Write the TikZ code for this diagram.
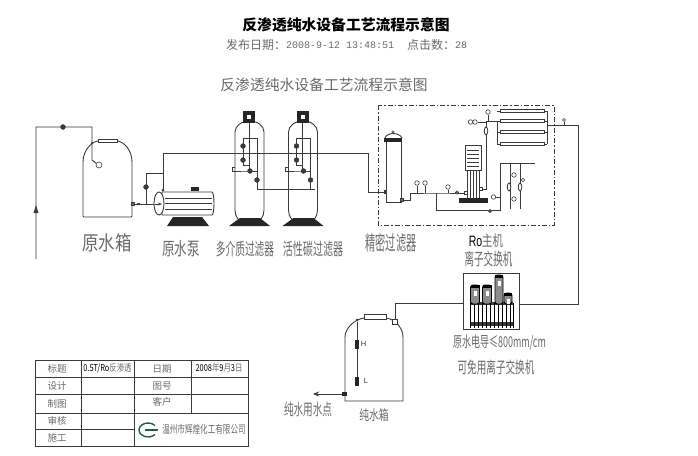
\documentclass[tikz,border=0pt]{standalone}
\usepackage{graphicx}
\usepackage{fontspec}
\setmainfont{Noto Sans CJK SC}
\newfontfamily\monof{Liberation Mono}
\newfontfamily\arialf{Liberation Sans}
\definecolor{ink}{HTML}{3A3A3A}
\definecolor{soft}{HTML}{6A6A6A}
\definecolor{logo}{HTML}{1F5F4A}
\newcommand{\nar}[3]{\scalebox{#2}[1]{\fontsize{#1pt}{#1pt}\selectfont #3}}
\tikzset{
 pipe/.style={draw=ink,line width=0.9pt},
 thinp/.style={draw=ink,line width=0.6pt},
 valve/.style={circle,fill=ink,draw=ink,line width=0.3pt,inner sep=0pt,minimum size=5pt},
 gauge/.style={circle,draw=ink,fill=white,line width=0.6pt,inner sep=0pt,minimum size=4.5pt},
 flowm/.style={ellipse,draw=ink,fill=white,line width=0.8pt,inner sep=0pt,minimum width=3.5pt,minimum height=8pt},
 lab/.style={text=soft,inner sep=0pt},
 cell/.style={text=soft,inner sep=0pt,font=\fontsize{9.5pt}{9.5pt}\selectfont},
 memb/.style={draw=ink,line width=0.7pt,fill=white,minimum width=44pt,minimum height=3.5pt,inner sep=0pt},
 blackbase/.style={fill=black!85,draw=none},
 tbl/.style={draw=ink,line width=0.7pt},
}
\usetikzlibrary{shapes.geometric,arrows.meta}
\begin{document}
\begin{tikzpicture}[x=1pt,y=-1pt]
\useasboundingbox (0,0) rectangle (698,455);
\fill[white] (0,0) rectangle (698,455);
% titles
\node[inner sep=0pt,font=\fontsize{14.8pt}{15pt}\selectfont\bfseries] (t1) at (346,24.5) {反渗透纯水设备工艺流程示意图};
\node[anchor=west,inner sep=0pt,text=soft,font=\fontsize{12pt}{12pt}\selectfont] (t2a) at (226,45) {发布日期：};
\node[anchor=west,inner sep=0pt,text=soft,font=\monof\fontsize{10pt}{10pt}\selectfont] (t2b) at (286,45) {2008-9-12 13:48:51};
\node[anchor=west,inner sep=0pt,text=soft,font=\fontsize{12pt}{12pt}\selectfont] (t2c) at (407,45) {点击数：};
\node[anchor=west,inner sep=0pt,text=soft,font=\monof\fontsize{10pt}{10pt}\selectfont] (t2d) at (455,45) {28};
\node[lab] (t3) at (324,85) {\fontsize{14.8pt}{15pt}\selectfont 反渗透纯水设备工艺流程示意图};
% raw tank
\coordinate (rin) at (36,259); \coordinate (rc1) at (36,127); \coordinate (rc2) at (92,127); \coordinate (rc3) at (92,160); \coordinate (rfl) at (97,164);
\draw[pipe,rounded corners=1pt] (83,217) -- (83,163) .. controls (83,150) and (92,142) .. (98,141) -- (117,141) .. controls (124,142) and (132,150) .. (132,163) -- (132,217) -- cycle;
\draw[thinp,fill=white] (98,139) rectangle (117,142);
\draw[pipe] (rin) -- (rc1) -- (rc2) -- (rc3) -- (rfl);
\node[valve] (v0) at (63,127) {};
\node[gauge,minimum size=6pt] (fl) at (99,165) {};
\node[circle,fill=ink,inner sep=0pt,minimum size=2.5pt] (tn) at (92,143) {};
\fill[ink] (36,205) -- (33.5,213) -- (38.5,213) -- cycle;
% pump
\coordinate (tout) at (132,204); \coordinate (pin) at (155,204);
\coordinate (br) at (146,204); \coordinate (br1) at (146,173); \coordinate (br2) at (163,173); \coordinate (pt) at (163,190);
\coordinate (m1) at (163,153); \coordinate (m2) at (368,153); \coordinate (m3) at (368,192); \coordinate (cin) at (386,192);
\draw[pipe] (tout) -- (pin);
\draw[line width=1.6pt,ink] (137,204) -- (140,204);
\node[draw=ink,fill=soft,inner sep=0pt,minimum size=3pt] (to) at (132.5,204) {};
\draw[thinp] (br) -- (br1) -- (br2);
\draw[pipe] (pt) -- (m1) -- (m2) -- (m3) -- (cin);
\node[valve] (v1) at (146,187) {};
\node[circle,fill=ink,inner sep=0pt,minimum size=3pt] (pd) at (163,190) {};
\draw[pipe,fill=white] (162,192) -- (212,192) arc (-90:90:2 and 11.5) -- (162,215) -- cycle;
\foreach \y in {198,203,209}{\draw[thinp] (165,\y) -- (212,\y);}
\draw[pipe,fill=white] (159,203.5) ellipse (5 and 11.5);
\draw[ink,-{Stealth[length=4pt]},line width=.7pt] (155,204) -- (162,204);
\fill[blackbase] (173,217) -- (202,217) -- (209,226) -- (167,226) -- cycle;
\fill[black!85] (191,187) rectangle (199,191);
% filters
\foreach \dx/\nm in {0/a,53.5/b}{
 \begin{scope}[xshift=\dx pt]
  \draw[pipe] (243,222) .. controls (239,221) and (235,217) .. (235,210) -- (235,132) arc (180:360:14.5 and 11) -- (264,210) .. controls (264,217) and (260,221) .. (256,222);
  \fill[blackbase] (240,218) -- (260,218) -- (270,226) -- (229,226) -- cycle;
  \fill[black!85] (243,111) rectangle (255,123);
  \fill[white] (247,115) rectangle (251,119);
  \coordinate (h\nm) at (249,123); \coordinate (j\nm) at (249,171);
  \coordinate (a\nm) at (243,138); \coordinate (a2\nm) at (243,165);
  \coordinate (b\nm) at (257,138); \coordinate (b2\nm) at (257,189);
  \coordinate (c\nm) at (232,171); \coordinate (c2\nm) at (232,167); \coordinate (c3\nm) at (235,167);
  \draw[thinp] (h\nm) -- (j\nm);
  \draw[thinp] (a\nm) -- (a2\nm) -- (249,165);
  \draw[thinp] (a\nm) -- (b\nm) -- (b2\nm);
  \draw[thinp] (c3\nm) -- (c2\nm) -- (c\nm) -- (j\nm) -- (257,171);
  \node[valve] (va\nm) at (243,146) {};
  \node[valve] (vb\nm) at (243,160) {};
  \node[valve] (vc\nm) at (250,171) {};
  \node[valve] (vd\nm) at (257,180) {};
 \end{scope}}
\coordinate (bb) at (315,189);
\draw[thinp] (b2a) -- (bb);
% cartridge filter box
\draw[ink,line width=0.8pt,dash pattern=on 5pt off 2pt on 1.5pt off 2pt] (378,105) rectangle (554,225);
\draw[pipe,fill=white] (386,141) rectangle (401,202);
\draw[pipe] (385,138) .. controls (387,132) and (399,132) .. (402,138);
\fill[black!85] (384,138) rectangle (402,141.5);
\node[circle,draw=ink,inner sep=0pt,minimum size=2.5pt] (cd) at (393,132) {};
\node[fill=ink,inner sep=0pt,minimum size=3.5pt] (cinn) at (385.5,192) {};
\coordinate (c1) at (401,200); \coordinate (c2) at (410,200); \coordinate (c3) at (410,193); \coordinate (c4) at (436,193); \coordinate (c5) at (465,193);
\coordinate (l1) at (436,210); \coordinate (l2) at (500,210); \coordinate (l3) at (500,163); \coordinate (l4) at (535,163);
\draw[pipe] (c1) -- (c2) -- (c3) -- (c4) -- (c5);
\draw[pipe] (c4) -- (l1) -- (l2) -- (l3) -- (l4);
\node[draw=ink,fill=soft,inner sep=0pt,minimum size=3pt] (co) at (401.5,200) {};
\foreach \x/\y/\n in {417/183/g1,425/183/g2,448/187/g3}{
 \node[gauge] (\n) at (\x,\y) {};
 \coordinate (\n b) at (\x,193);
 \draw[thinp] (\n) -- (\n b);}
\node[gauge,minimum size=3.5pt,path picture={\draw[ink] (path picture bounding box.north west)--(path picture bounding box.south east) (path picture bounding box.north east)--(path picture bounding box.south west);}] (v2) at (457,192.5) {};
\node[gauge,minimum size=3.5pt,path picture={\draw[ink] (path picture bounding box.north west)--(path picture bounding box.south east) (path picture bounding box.north east)--(path picture bounding box.south west);}] (v3) at (490,211) {};
% lower branch verticals
\coordinate (u1) at (510,163); \coordinate (u2) at (510,209); \coordinate (w1) at (520,163); \coordinate (w2) at (520,209);
\draw[pipe] (u1) -- (u2); \draw[pipe] (w1) -- (w2);
\node[gauge] (g4) at (493.5,197) {}; \coordinate (g4b) at (500,197); \draw[thinp] (g4) -- (g4b);
\node[gauge] (g5) at (514,175) {}; \coordinate (g5b) at (510,175); \draw[thinp] (g5) -- (g5b);
\node[gauge] (g6) at (514,199) {}; \coordinate (g6b) at (510,199); \draw[thinp] (g6) -- (g6b);
\node[gauge,minimum size=3.5pt] (g7) at (523,180) {}; \coordinate (g7b) at (520,180); \draw[thinp] (g7) -- (g7b);
\node[flowm] (f1) at (509,187) {};
\node[flowm] (f2) at (520,187) {};
% RO pump
\draw[pipe,fill=white] (465,145) rectangle (481,170);
\foreach \y in {150,154,158,162,166}{\draw[thinp] (467,\y) -- (479,\y);}
\foreach \x in {467,470,473,476,479}{\draw[thinp] (\x,170) -- (\x,198);}
\fill[black!85] (459,198) rectangle (488,203);
\node[draw=ink,fill=white,inner sep=0pt,minimum size=3pt] (pi) at (465.5,193) {};
\node[draw=ink,fill=white,inner sep=0pt,minimum size=3pt] (po) at (480.5,189) {};
\coordinate (o1) at (486,189); \coordinate (o2) at (486,121); \coordinate (o3) at (497,121);
\draw[pipe] (po) -- (o1) -- (o2) -- (o3);
\node[flowm] (f3) at (486,131) {};
\node[gauge] (g8) at (488,112) {}; \coordinate (g8b) at (488,121); \draw[thinp] (g8) -- (g8b);
\node[gauge] (g9) at (470.5,122) {}; \node[gauge] (g10) at (475,122) {};
\draw[thinp] (g10) -- (o2 |- g10);
% membranes
\foreach \y/\n in {111/m1x,121/m2x,132/m3x,144/m4x}{
 \node[memb] (\n) at (522,\y) {};
 \coordinate (\n l) at (497,\y); \coordinate (\n r) at (547,\y);
 \draw[thinp] (\n l) -- (\n); \draw[thinp] (\n) -- (\n r);}
\draw[pipe] (m2xl) -- (m4xl);
\draw[pipe] (m1xr) -- (m4xr);
\coordinate (e1) at (547,125); \coordinate (e2) at (578,125); \coordinate (e3) at (578,304); \coordinate (e4) at (519,304);
\draw[pipe] (e1) -- (e2) -- (e3) -- (e4);
\node[gauge,minimum size=3pt] (g11) at (564,120) {}; \coordinate (g11b) at (564,125); \draw[thinp] (g11) -- (g11b);
% ion exchanger picture
\node[draw=ink,line width=0.9pt,minimum width=56pt,minimum height=56pt,inner sep=0pt] (ix) at (491,301) {};
\fill[ink] (470,302) rectangle (513,305);
\fill[ink] (470,322) rectangle (513,326);
\foreach \x in {470,474,478,482,486,490,494,498,502,506,510,513}{\draw[black,line width=1pt] (\x,303) -- (\x,328);}
\foreach \x/\y/\w in {475/285/4.5,487/285/4.5,499/275/4,508/293/4}{
 \draw[black,line width=.9pt,fill=black!45,rounded corners=2.5pt] (\x-\w,\y) rectangle (\x+\w,304);
 \fill[black] (\x-\w,\y) rectangle (\x+\w,\y+3);
 \fill[white] (\x-1.5,\y+6) rectangle (\x+1.5,\y+11);}
% product tank
\coordinate (x1) at (463,303); \coordinate (x2) at (395,303); \coordinate (x3) at (395,321);
\draw[pipe] (x1) -- (x2) -- (x3);
\draw[pipe,fill=white] (345,401) -- (345,337) .. controls (345,328) and (355,319) .. (364,318) -- (386,318) .. controls (395,319) and (403,328) .. (403,337) -- (403,401) -- cycle;
\draw[thinp,fill=white] (364,314) rectangle (386,319);
\node[draw=ink,fill=white,inner sep=0pt,minimum size=5pt] (xv) at (395,322) {};
\node[circle,fill=ink,inner sep=0pt,minimum size=3pt] (rt) at (357,320) {};
\coordinate (rb) at (357,385);
\draw[pipe] (rt) -- (rb);
\node[fill=black!85,inner sep=0pt,minimum width=4pt,minimum height=9pt] (hl) at (357,344) {};
\node[fill=black!85,inner sep=0pt,minimum width=4pt,minimum height=9pt] (ll) at (357,381) {};
\node[inner sep=0pt,font=\arialf\fontsize{7.5pt}{8pt}\selectfont,text=ink] (H) at (363.5,344) {H};
\node[inner sep=0pt,font=\arialf\fontsize{7.5pt}{8pt}\selectfont,text=ink] (L) at (366,381) {L};
\node[fill=black!85,inner sep=0pt,minimum width=5pt,minimum height=4pt] (xo) at (344.5,394) {};
\coordinate (xe) at (313,394);
\draw[pipe,-{Stealth[length=6pt,width=5pt]}] (xo) -- (xe);
% labels
\node[lab] (L1) at (107,243) {\nar{20}{0.82}{原水箱}};
\node[lab] (L2) at (181,249) {\nar{18}{0.7}{原水泵}};
\node[lab] (L3) at (245,249) {\nar{17}{0.57}{多介质过滤器}};
\node[lab] (L4) at (313,249) {\nar{17}{0.59}{活性碳过滤器}};
\node[lab] (L5) at (391,243) {\nar{20}{0.51}{精密过滤器}};
\node[lab] (L6) at (486,240.5) {\nar{15}{0.7}{\textcolor{black}{\arialf Ro}主机}};
\node[lab] (L7) at (488.5,259) {\nar{17}{0.56}{离子交换机}};
\node[lab] (L8) at (499.5,342.5) {\nar{15}{0.6}{原水电导≤800mm/cm}};
\node[lab] (L9) at (496,367.5) {\nar{16}{0.6}{可免用离子交换机}};
\node[lab] (L10) at (308,409) {\nar{16}{0.6}{纯水用水点}};
\node[lab] (L11) at (374,415) {\nar{14}{0.7}{纯水箱}};
% table
\draw[tbl] (35,360) rectangle (248,446);
\foreach \y in {377,394,413}{\draw[tbl] (35,\y) -- (248,\y);}
\draw[tbl] (35,429) -- (134,429);
\draw[tbl] (81,360) -- (81,446);
\draw[tbl] (134,360) -- (134,446);
\draw[tbl] (191,360) -- (191,413);
\node[cell] (c11) at (57,369) {标题};
\node[cell] (c21) at (57,386) {设计};
\node[cell] (c31) at (57,404) {制图};
\node[cell] (c41) at (57,421) {审核};
\node[cell] (c51) at (57,438) {施工};
\node[cell,text=black] (c12) at (107.5,368) {\nar{9.5}{0.78}{0.5T/Ro\textcolor{soft}{反渗透}}};
\node[cell] (c13) at (162,369) {日期};
\node[cell] (c23) at (162,386) {图号};
\node[cell] (c33) at (162,402) {客户};
\node[cell,text=black] (c14) at (219,368) {\nar{9.5}{0.78}{2008\textcolor{soft}{年}9\textcolor{soft}{月}3\textcolor{soft}{日}}};
\draw[logo,line width=1.4pt] (154.9,425.5) arc (-40:-320:9 and 7);
\draw[logo,line width=1.4pt] (145,430) -- (158,430);
\node[cell] (c5) at (204,429.5) {\nar{11}{0.69}{温州市辉煌化工有限公司}};
\end{tikzpicture}
\end{document}
